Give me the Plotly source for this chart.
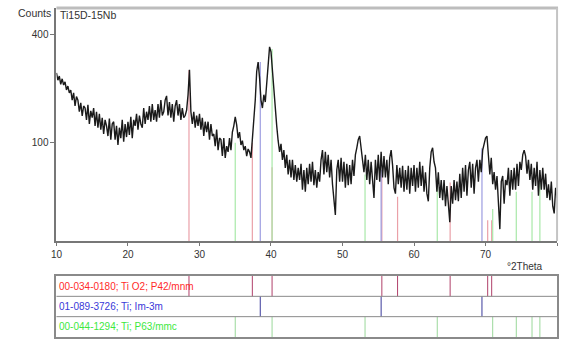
import numpy as np
import plotly.graph_objects as go

# Diffractogram: counts every 0.2 deg from 10 to 80 deg 2Theta
two_theta_start = 10.0
two_theta_step = 0.2
counts = [
    272, 250, 262, 238, 254,   236, 245, 222, 233, 214,
    222, 195, 214, 180, 204,   195, 166, 188, 156, 180,
    175, 147, 183, 138, 168,   152, 175, 134, 166, 130,
    161, 126, 152, 117, 147,   134, 113, 150, 106, 138,
    143, 106, 134, 96, 130,    109, 147, 102, 138, 111,
    143, 115, 154, 109, 147,   134, 161, 126, 157, 138,
    130, 175, 138, 166, 147,   180, 143, 185, 147, 170,
    143, 185, 152, 195, 157,   166, 195, 206, 157, 190,
    152, 185, 143, 180, 195,   157, 185, 147, 175, 152,
    157, 170, 209, 281, 166,   138, 166, 130, 157, 134,
    161, 126, 152, 113, 143,   121, 143, 106, 138, 113,
    117, 94, 126, 87, 109,     106, 77, 109, 74, 94,
    84, 109, 87, 121, 134,     154, 136, 109, 121, 96,
    104, 87, 94, 77, 89,       84, 74, 104, 143, 195,
    276, 306, 257, 195, 175,   209, 190, 236, 306, 357,
    340, 276, 217, 166, 134,   104, 84, 98, 71, 87,
    59, 79, 50, 71, 46,        71, 43, 63, 41, 59,
    43, 65, 32, 56, 30,        59, 38, 65, 41, 68,
    37, 56, 34, 53, 41,        71, 87, 50, 84, 53,
    79, 46, 71, 38, 22,        11, 56, 71, 41, 74,
    41, 68, 34, 65, 37,        63, 38, 71, 48, 79,
    91, 106, 113, 91, 63,      53, 79, 43, 71, 38,
    68, 43, 24, 71, 43,        79, 41, 84, 46, 77,
    46, 71, 38, 74, 87,        63, 34, 28, 63, 38,
    59, 34, 62, 30, 56,        32, 62, 28, 59, 36,
    63, 30, 59, 34, 68,        36, 62, 30, 53, 28,
    21, 59, 84, 91, 68,        59, 30, 53, 24, 43,
    22, 43, 17, 36, 14,        7, 36, 19, 43, 22,
    41, 21, 51, 24, 59,        30, 63, 26, 56, 68,
    34, 65, 28, 59, 71,        41, 71, 53, 87, 98,
    109, 113, 84, 50, 74,      38, 53, 32, 48, 22,
    4, 41, 48, 19, 43,         37, 59, 26, 56, 32,
    59, 32, 65, 36, 68,        56, 79, 87, 77, 51,
    71, 43, 65, 32, 59,        36, 68, 26, 56, 32,
    59, 32, 51, 24, 38,        22, 41, 17, 12, 34,
    24,
]

# Reference patterns: peak positions (deg 2Theta) and stick heights (counts)
tio2_label = "00-034-0180; Ti O2; P42/mnm"
tio2_pos = [28.53, 37.39, 40.15, 55.50, 57.70, 65.05, 70.30, 70.86]
tio2_int = [281, 100, 60, 50, 25, 40, 8, 8]

ti_bcc_label = "01-089-3726; Ti; Im-3m"
ti_bcc_pos = [38.50, 55.40, 69.50]
ti_bcc_int = [306, 56, 90]

ti_hcp_label = "00-044-1294; Ti; P63/mmc"
ti_hcp_pos = [35.00, 40.15, 53.15, 63.25, 71.00, 74.30, 76.50, 77.60]
ti_hcp_int = [100, 350, 50, 45, 15, 30, 30, 40]

y_tick_counts = [100, 400]
x_ticks = [10, 20, 30, 40, 50, 60, 70, 80]

W, H = 562, 340
left_px, right_px = 51, 557
main_top_px, main_bot_px = 8, 241
bar_top_px, bar_bot_px = 276, 337

two_theta = two_theta_start + two_theta_step * np.arange(len(counts))
sqrt_counts = np.sqrt(np.array(counts, dtype=float))

fig = go.Figure()

phases = [
    (tio2_pos, tio2_int, "#eaa0a8", "#b0406a", "#ff2a2a", tio2_label, 2),
    (ti_bcc_pos, ti_bcc_int, "#9c9ce0", "#3a3a9a", "#3838d8", ti_bcc_label, 1),
    (ti_hcp_pos, ti_hcp_int, "#a8e8a8", "#9ad89a", "#3ee83e", ti_hcp_label, 0),
]

# Pale reference sticks under the measured pattern
for pos, inten, pale, dark, txt, label, row in phases:
    xs, ys = [], []
    for p, h in zip(pos, inten):
        xs += [p, p, None]
        ys += [0, np.sqrt(h), None]
    fig.add_trace(go.Scatter(x=xs, y=ys, mode="lines",
                             line=dict(color=pale, width=1.2),
                             hoverinfo="skip", xaxis="x", yaxis="y"))

fig.add_trace(go.Scatter(x=two_theta, y=sqrt_counts, mode="lines",
                         line=dict(color="#1a1a1a", width=1.4),
                         xaxis="x", yaxis="y"))

# Stick rows of the reference patterns
for pos, inten, pale, dark, txt, label, row in phases:
    xs, ys = [], []
    for p in pos:
        xs += [p, p, None]
        ys += [row, row + 1, None]
    fig.add_trace(go.Scatter(x=xs, y=ys, mode="lines",
                             line=dict(color=dark, width=1),
                             hoverinfo="skip", xaxis="x2", yaxis="y2"))

def px_x(v):
    return v / W

def px_y(v):
    return 1 - v / H

annotations = [
    dict(text="Counts", x=px_x(10), y=px_y(13), xanchor="left", yanchor="middle",
         font=dict(size=10.5, color="#333333")),
    dict(text="Ti15D-15Nb", x=px_x(53), y=px_y(15), xanchor="left", yanchor="middle",
         font=dict(size=10.5, color="#333333")),
    dict(text="°2Theta", x=px_x(545), y=px_y(266), xanchor="right", yanchor="middle",
         font=dict(size=10, color="#333333")),
]
row_h = (bar_bot_px - bar_top_px) / 3
for pos, inten, pale, dark, txt, label, row in phases:
    yc = bar_top_px + (2 - row + 0.5) * row_h
    annotations.append(dict(text=label, x=px_x(52), y=px_y(yc), xanchor="left",
                            yanchor="middle", font=dict(size=10, color=txt)))
for a in annotations:
    a.update(xref="paper", yref="paper", showarrow=False,
             font=dict(family="Liberation Sans, Arial, sans-serif", **a["font"]))

shapes = [
    # top and right frame of the pattern window
    dict(type="line", xref="paper", yref="paper", x0=px_x(left_px), x1=px_x(right_px + 1),
         y0=px_y(main_top_px), y1=px_y(main_top_px), line=dict(color="#bdbdbd", width=3)),
    dict(type="line", xref="paper", yref="paper", x0=px_x(right_px), x1=px_x(right_px),
         y0=px_y(main_top_px), y1=px_y(main_bot_px), line=dict(color="#c4c4c4", width=2)),
]
for yv in [1, 2]:
    shapes.append(dict(type="line", xref="x2 domain", yref="y2", x0=0, x1=1, y0=yv, y1=yv,
                       line=dict(color="#8a8a8a", width=1)))

fig.update_layout(
    width=W, height=H, margin=dict(l=0, r=0, t=0, b=0),
    paper_bgcolor="white", plot_bgcolor="white", showlegend=False,
    font=dict(family="Liberation Sans, Arial, sans-serif", size=10, color="#333333"),
    xaxis=dict(domain=[px_x(left_px), px_x(right_px)], range=[10, 80], tickvals=x_ticks,
               ticks="outside", ticklen=3, tickcolor="#777777", showline=True,
               linecolor="#777777", linewidth=2, showgrid=False, zeroline=False,
               tickfont=dict(size=10, color="#333333"), anchor="y"),
    yaxis=dict(domain=[px_y(main_bot_px), px_y(main_top_px)], range=[0.9, 22.5],
               tickvals=[np.sqrt(v) for v in y_tick_counts],
               ticktext=[str(v) for v in y_tick_counts],
               ticks="outside", ticklen=4, tickcolor="#777777", showline=True,
               linecolor="#777777", linewidth=2, showgrid=False, zeroline=False,
               tickfont=dict(size=10, color="#333333"), anchor="x"),
    xaxis2=dict(domain=[px_x(left_px), px_x(right_px)], range=[10, 80], anchor="y2",
                showticklabels=False, ticks="", showline=True, mirror=True,
                linecolor="#8a8a8a", linewidth=2, showgrid=False, zeroline=False),
    yaxis2=dict(domain=[px_y(bar_bot_px), px_y(bar_top_px)], range=[0, 3], anchor="x2",
                showticklabels=False, ticks="", showline=True, mirror=True,
                linecolor="#8a8a8a", linewidth=1.5, showgrid=False, zeroline=False),
    annotations=annotations, shapes=shapes,
)

fig.write_html("out.html")
